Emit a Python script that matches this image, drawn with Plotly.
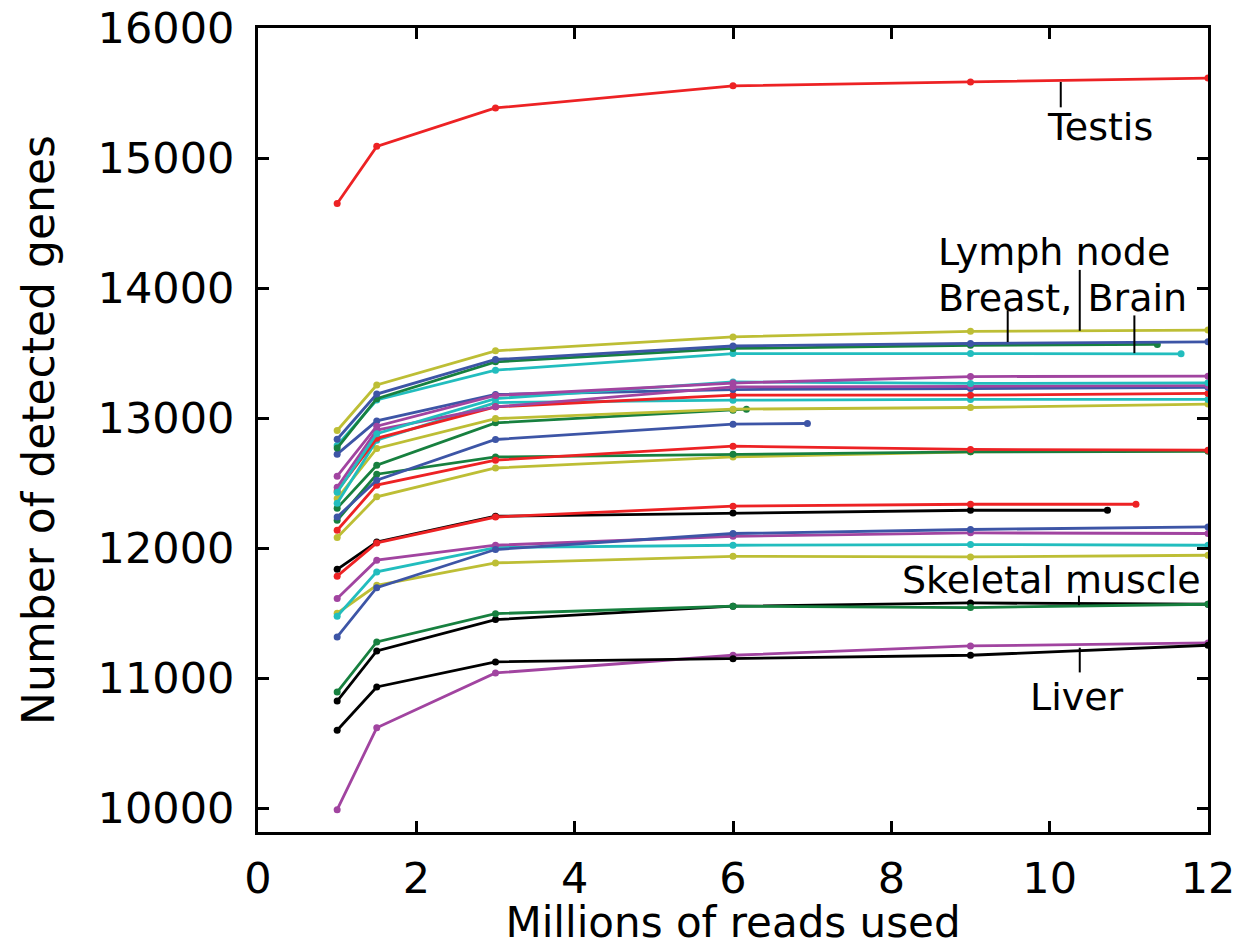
import plotly.graph_objects as go

# Sequencing depth (millions of reads) at which genes were counted
depths = [1, 1.5, 3, 6, 9, 12]

RED = "#ED2224"
YEL = "#BDBE35"
BLU = "#3D55A6"
GRN = "#17803F"
CYA = "#22BDBE"
PUR = "#A144A0"
BLK = "#000000"

# Each tissue: (colour, depths, detected genes)
testis = (RED, depths, [14650, 15090, 15385, 15555, 15585, 15615])
lymph_node = (YEL, depths, [12905, 13255, 13518, 13625, 13668, 13677])
breast = (BLU, depths, [12838, 13185, 13451, 13555, 13574, 13587])
green_a = (GRN, [1, 1.5, 3, 6, 9, 11.36], [12770, 13150, 13433, 13536, 13560, 13567])
brain = (CYA, [1, 1.5, 3, 6, 9, 11.66], [12790, 13140, 13369, 13497, 13497, 13495])
purple_a = (PUR, depths, [12554, 12938, 13175, 13270, 13320, 13323])
cyan_a = (CYA, depths, [12431, 12880, 13150, 13279, 13267, 13272])
purple_b = (PUR, depths, [12469, 12908, 13087, 13240, 13245, 13250])
blue_a = (BLU, depths, [12723, 12979, 13182, 13220, 13228, 13236])
red_a = (RED, depths, [12440, 12845, 13087, 13177, 13177, 13190])
cyan_b = (CYA, depths, [12346, 12830, 13120, 13138, 13144, 13144])
yellow_a = (YEL, depths, [12382, 12767, 12997, 13069, 13082, 13108])
green_b = (GRN, [1, 1.5, 3, 6, 6.17], [12308, 12638, 12964, 13060, 13069])
blue_b = (BLU, [1, 1.5, 3, 6, 6.94], [12240, 12523, 12836, 12954, 12959])
red_b = (RED, depths, [12138, 12485, 12677, 12785, 12760, 12754])
green_c = (GRN, depths, [12215, 12569, 12702, 12723, 12741, 12745])
yellow_b = (YEL, depths, [12082, 12395, 12617, 12702, 12741, 12750])
red_c = (RED, [1, 1.5, 3, 6, 9, 11.09], [11785, 12041, 12240, 12323, 12338, 12338])
black_a = (BLK, [1, 1.5, 3, 6, 9, 10.73], [11838, 12048, 12246, 12271, 12292, 12292])
blue_c = (BLU, depths, [11318, 11697, 11990, 12113, 12144, 12164])
purple_c = (PUR, depths, [11613, 11908, 12023, 12092, 12118, 12113])
cyan_c = (CYA, depths, [11477, 11818, 12005, 12023, 12028, 12023])
yellow_c = (YEL, depths, [11500, 11715, 11887, 11938, 11933, 11946])
skeletal_muscle = (GRN, depths, [10894, 11279, 11497, 11554, 11544, 11569])
black_b = (BLK, depths, [10825, 11210, 11451, 11554, 11579, 11569])
liver = (BLK, depths, [10600, 10933, 11126, 11151, 11177, 11254])
purple_d = (PUR, depths, [9990, 10619, 11041, 11177, 11249, 11272])

tissues = [
    purple_d, liver, black_b, skeletal_muscle, yellow_c, cyan_c, purple_c,
    blue_c, black_a, red_c, yellow_b, green_c, red_b, blue_b, green_b,
    yellow_a, cyan_b, red_a, blue_a, purple_b, cyan_a, purple_a, brain,
    green_a, breast, lymph_node, testis,
]

# Axis ticks
x_ticks = [0, 2, 4, 6, 8, 10, 12]
y_ticks = [10000, 11000, 12000, 13000, 14000, 15000, 16000]
y_tick_text = ["10000", "11000", "12000", "13000", "14000", "15000", "16000"]

# Tissue names with label position and leader line (x, y_from, y_to)
labels = [
    ("Testis", 10.63, 15235, (10.14, 15585, 15390)),
    ("Lymph node", 10.05, 14280, (10.38, 14140, 13672)),
    ("Breast,\u2009\u2009Brain", 10.16, 13925, None),
    ("Skeletal muscle", 10.02, 11755, (10.37, 11635, 11562)),
    ("Liver", 10.35, 10855, (10.38, 11235, 11045)),
]
extra_leaders = [
    (9.47, 13830, 13585),
    (11.07, 13790, 13500),
]

FONT = "DejaVu Sans, Liberation Sans, sans-serif"

fig = go.Figure()
for colour, xs, ys in tissues:
    fig.add_trace(go.Scatter(
        x=xs, y=ys, mode="lines+markers",
        line=dict(color=colour, width=2.8),
        marker=dict(color=colour, size=7),
        showlegend=False, hoverinfo="skip",
    ))

label_font = dict(family=FONT, size=38, color="black")
for text, lx, ly, leader in labels:
    fig.add_annotation(x=lx, y=ly, text=text, showarrow=False,
                       xanchor="center", yanchor="middle", font=label_font)
    if leader is not None:
        x0, y0, y1 = leader
        fig.add_shape(type="line", x0=x0, x1=x0, y0=y0, y1=y1,
                      line=dict(color="black", width=2))
for x0, y0, y1 in extra_leaders:
    fig.add_shape(type="line", x0=x0, x1=x0, y0=y0, y1=y1,
                  line=dict(color="black", width=2))

tick_font = dict(family=FONT, size=43, color="black")
axis_common = dict(
    showline=True, linecolor="black", linewidth=3, mirror="ticks",
    ticks="inside", ticklen=11, tickwidth=3, tickcolor="black",
    showgrid=False, zeroline=False, tickfont=tick_font, automargin=False,
)
fig.update_xaxes(
    range=[0, 12], tickvals=x_ticks,
    title=dict(text="Millions of reads used", standoff=6,
               font=dict(family=FONT, size=42, color="black")),
    ticklabelstandoff=6,
    **axis_common,
)
fig.update_yaxes(
    range=[9818, 16000], tickvals=y_ticks, ticktext=y_tick_text,
    title=dict(text="Number of detected genes", standoff=30,
               font=dict(family=FONT, size=44, color="black")),
    ticklabelstandoff=12,
    **axis_common,
)
fig.update_layout(
    width=1236, height=947,
    margin=dict(l=258, r=28, t=28, b=115),
    paper_bgcolor="white", plot_bgcolor="white",
)
fig.write_html("out.html")
